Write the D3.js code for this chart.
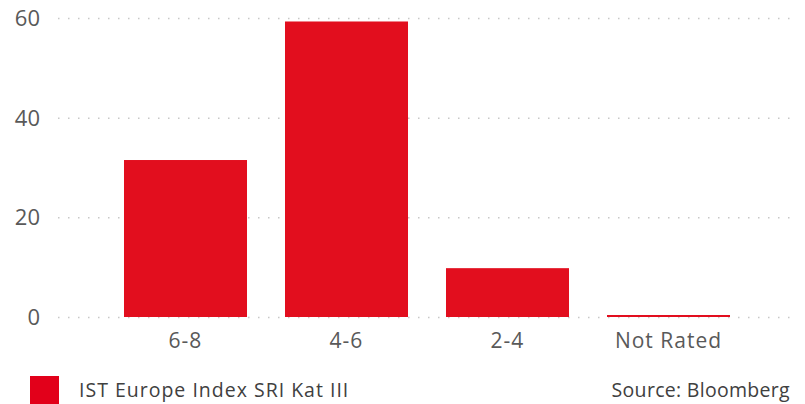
<!DOCTYPE html>
<html>
<head>
<meta charset="utf-8">
<script src="https://cdn.jsdelivr.net/npm/d3@7"></script>
<style>
  body { margin: 0; background: #fff; }
  svg text { font-family: "Open Sans", "Noto Sans", sans-serif; }
</style>
</head>
<body>
<div id="chart"></div>
<script>
const categories = ['6-8', '4-6', '2-4', 'Not Rated']
const values = [31.5, 59.3, 9.8, 0.4]
const yTicks = [0, 20, 40, 60]
const seriesName = 'IST Europe Index SRI Kat III'
const sourceText = 'Source: Bloomberg'

const W = 805, H = 404
const svg = d3.select('#chart').append('svg')
  .attr('width', W).attr('height', H)

const x = d3.scaleBand().domain(categories).range([105, 749])
  .paddingInner(0.236).paddingOuter(0.118)
const y = d3.scaleLinear().domain([0, 60]).range([317, 18])

// dotted grid
const grid = d3.axisLeft(y).tickValues(yTicks).tickSize(-(790 - 58)).tickFormat('')
svg.append('g').attr('transform', 'translate(58,0)').call(grid)
  .call(g => g.select('.domain').remove())
  .selectAll('line').attr('stroke', '#c8c8c8').attr('stroke-width', 1.5)
  .attr('stroke-dasharray', '1.5,8.5')

// y labels
svg.append('g').selectAll('text').data(yTicks).enter().append('text')
  .attr('x', 40).attr('y', d => y(d) + 8)
  .attr('text-anchor', 'end').attr('font-size', 22).attr('fill', '#595959')
  .text(d => d)

// bars
svg.append('g').selectAll('rect').data(values).enter().append('rect')
  .attr('x', (d, i) => x(categories[i]))
  .attr('width', x.bandwidth())
  .attr('y', d => y(d))
  .attr('height', d => y(0) - y(d))
  .attr('fill', '#e20e1e')

// x labels
svg.append('g').selectAll('text').data(categories).enter().append('text')
  .attr('x', d => x(d) + x.bandwidth() / 2).attr('y', 348)
  .attr('text-anchor', 'middle').attr('font-size', 21).attr('fill', '#595959')
  .attr('letter-spacing', 1)
  .text(d => d)

// legend
svg.append('rect').attr('x', 30).attr('y', 376).attr('width', 29).attr('height', 28)
  .attr('fill', '#e2001a')
svg.append('text').attr('x', 79).attr('y', 397).attr('font-size', 19.5)
  .attr('letter-spacing', 1)
  .attr('fill', '#404040').text(seriesName)
svg.append('text').attr('x', 790).attr('y', 397).attr('text-anchor', 'end')
  .attr('font-size', 19.5).attr('letter-spacing', 0.3)
  .attr('fill', '#404040').text(sourceText)
</script>
</body>
</html>
